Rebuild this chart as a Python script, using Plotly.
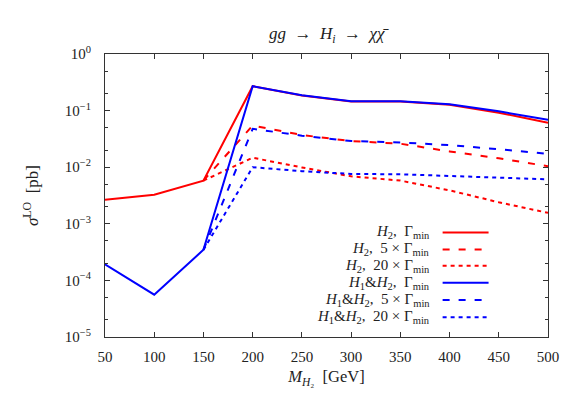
import plotly.graph_objects as go

# ---- data ----
mass = [50, 100, 150, 200, 250, 300, 350, 400, 450, 500]
h2_gmin = [2.65e-3, 3.25e-3, 5.8e-3, 0.27, 0.185, 0.145, 0.145, 0.127, 0.092, 0.061]
h2_5gmin = [None, None, 5.8e-3, 0.0545, 0.037, 0.029, 0.026, 0.019, 0.0144, 0.0104]
h2_20gmin = [None, None, 5.8e-3, 0.0147, 0.0099, 0.0069, 0.0058, 0.0039, 0.0024, 0.00156]
h1h2_gmin = [1.93e-4, 5.6e-5, 3.47e-4, 0.27, 0.187, 0.147, 0.146, 0.129, 0.097, 0.0687]
h1h2_5gmin = [None, None, 3.47e-4, 0.0477, 0.036, 0.029, 0.0273, 0.0245, 0.0208, 0.0172]
h1h2_20gmin = [None, None, 3.47e-4, 0.010, 0.0085, 0.0076, 0.0075, 0.0070, 0.0066, 0.0061]

series_names = [
    "<i>H</i><sub>2</sub>,  Γ<sub>min</sub>",
    "<i>H</i><sub>2</sub>,  5 × Γ<sub>min</sub>",
    "<i>H</i><sub>2</sub>,  20 × Γ<sub>min</sub>",
    "<i>H</i><sub>1</sub>&amp;<i>H</i><sub>2</sub>,  Γ<sub>min</sub>",
    "<i>H</i><sub>1</sub>&amp;<i>H</i><sub>2</sub>,  5 × Γ<sub>min</sub>",
    "<i>H</i><sub>1</sub>&amp;<i>H</i><sub>2</sub>,  20 × Γ<sub>min</sub>",
]
series_values = [h2_gmin, h2_5gmin, h2_20gmin, h1h2_gmin, h1h2_5gmin, h1h2_20gmin]
series_colors = ["#ff0000", "#ff0000", "#ff0000", "#0000ff", "#0000ff", "#0000ff"]
series_dash = ["solid", "7px,9px", "4px,4px", "solid", "7px,9px", "4px,4px"]

y_tickvals = [1e-5, 1e-4, 1e-3, 1e-2, 1e-1, 1]
y_ticktext = ["10<sup>−5</sup>", "10<sup>−4</sup>", "10<sup>−3</sup>",
              "10<sup>−2</sup>", "10<sup>−1</sup>", "10<sup>0</sup>"]
y_minor = [m * 10 ** e for e in range(-5, 0) for m in (2, 5)]
x_tickvals = [50, 100, 150, 200, 250, 300, 350, 400, 450, 500]

FONT = "Liberation Serif, DejaVu Serif, serif"
INK = "#222"

fig = go.Figure()
for name, vals, col, dash in zip(series_names, series_values, series_colors, series_dash):
    fig.add_trace(go.Scatter(x=mass, y=vals, mode="lines", name=name,
                             line=dict(color=col, width=2, dash=dash),
                             connectgaps=False, showlegend=False))

# custom legend: text right-aligned, line sample to the right
L, R, T, B = 105, 32.5, 53.5, 57
W, H = 581, 394
pw, ph = W - L - R, H - T - B
row_y = [232.3, 249.3, 265.7, 282.7, 300.0, 317.3]
text_right = 432
samp_x0, samp_x1 = 443, 489
for name, col, dash, yy in zip(series_names, series_colors, series_dash, row_y):
    py = (H - B - yy) / ph
    fig.add_annotation(xref="paper", yref="paper", x=(text_right - L) / pw, y=py,
                       xanchor="right", yanchor="middle", text=name, showarrow=False,
                       font=dict(family=FONT, size=15, color=INK))
    fig.add_shape(type="line", xref="paper", yref="paper",
                  x0=(samp_x0 - L) / pw, x1=(samp_x1 - L) / pw, y0=py, y1=py,
                  line=dict(color=col, width=2, dash=dash))

fig.update_layout(
    width=W, height=H,
    margin=dict(l=L, r=R, t=T, b=B),
    plot_bgcolor="white", paper_bgcolor="white",
    font=dict(family=FONT, size=15, color=INK),
    title=dict(text="<i>gg</i>  →  <i>H<sub>i</sub></i>  →  <i>χχ̄</i>",
               x=(L + pw / 2) / W, xanchor="center", y=1 - 33 / H, yanchor="middle",
               font=dict(family=FONT, size=17, color=INK)),
)
fig.update_xaxes(range=[50, 500], tickvals=x_tickvals, ticks="inside", ticklen=5,
                 tickcolor="#333", showline=True, linecolor="#333", linewidth=1,
                 mirror="ticks", showgrid=False, zeroline=False, ticklabelstandoff=6,
                 title=dict(text="<i>M</i><sub><i>H</i>₂</sub>  [GeV]", standoff=6,
                            font=dict(family=FONT, size=16.5)),
                 tickfont=dict(family=FONT, size=15))
fig.update_yaxes(type="log", range=[-5, 0], tickvals=y_tickvals, ticktext=y_ticktext,
                 ticks="inside", ticklen=5, tickcolor="#333", showline=True,
                 linecolor="#333", linewidth=1, mirror="ticks", showgrid=False,
                 zeroline=False, ticklabelstandoff=10,
                 minor=dict(tickvals=y_minor, ticks="inside", ticklen=3, tickcolor="#333"),
                 title=dict(text="<i>σ</i><sup>LO</sup>  [pb]", standoff=21,
                            font=dict(family=FONT, size=17)),
                 tickfont=dict(family=FONT, size=15))

fig.write_html("out.html", config={"displayModeBar": False},
               post_script="document.body.style.margin='0px';")
